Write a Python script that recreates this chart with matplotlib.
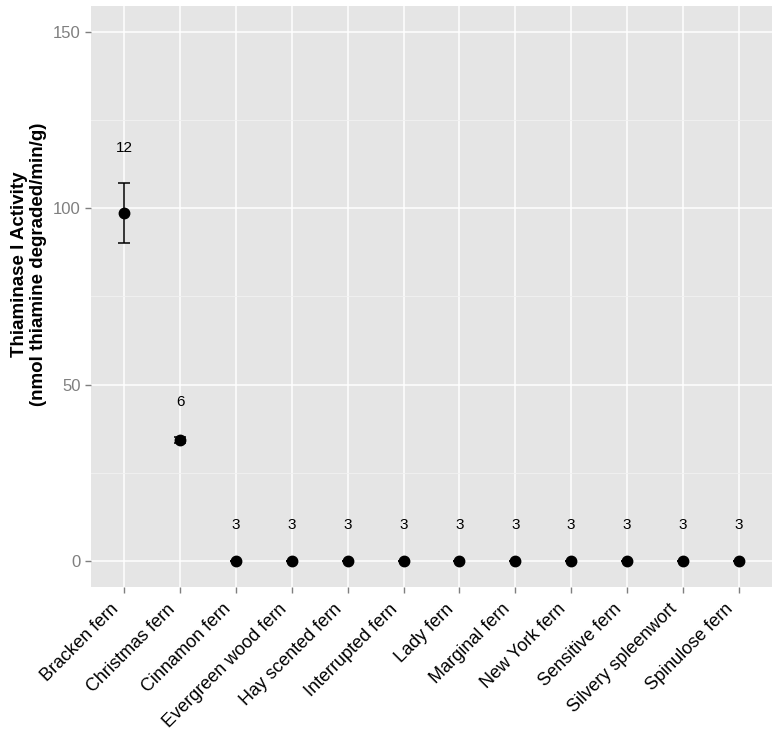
import numpy as np
import matplotlib.pyplot as plt
from matplotlib.ticker import MultipleLocator
from matplotlib.transforms import ScaledTranslation

plt.rcParams['font.family'] = ['Liberation Sans', 'DejaVu Sans']

species = ['Bracken fern', 'Christmas fern', 'Cinnamon fern', 'Evergreen wood fern',
           'Hay scented fern', 'Interrupted fern', 'Lady fern', 'Marginal fern',
           'New York fern', 'Sensitive fern', 'Silvery spleenwort', 'Spinulose fern']
activity = [98.8, 34.3, 0, 0, 0, 0, 0, 0, 0, 0, 0, 0]
err_low = [90.3, 33.5, 0, 0, 0, 0, 0, 0, 0, 0, 0, 0]
err_high = [107.3, 35.1, 0, 0, 0, 0, 0, 0, 0, 0, 0, 0]
n_samples = [12, 6, 3, 3, 3, 3, 3, 3, 3, 3, 3, 3]

fig = plt.figure(figsize=(7.8, 7.51), dpi=100)
ax = fig.add_axes([91/780, 1 - 587/751, 681/780, 581/751])
ax.set_facecolor('#e5e5e5')

x = np.arange(1, len(species) + 1)
act = np.array(activity)
lo = act - np.array(err_low)
hi = np.array(err_high) - act
ax.errorbar(x, act, yerr=[lo, hi], fmt='none', ecolor='black', elinewidth=1.1,
            capsize=4.5, capthick=1.1, zorder=3)
ax.plot(x, act, 'o', color='black', markersize=7.5, zorder=4)
for xi, top, n in zip(x, err_high, n_samples):
    ax.text(xi, top + 10, str(n), ha='center', va='center', fontsize=11, color='black')

ax.set_xlim(0.4, 12.6)
ax.set_ylim(-7.5, 157.5)
ax.set_xticks(x)
ax.set_xticklabels([])
# category labels, anchored at their right end just below the ticks
lab_trans = ax.get_xaxis_transform() + ScaledTranslation(-5/100, -23/100, fig.dpi_scale_trans)
for xi, name in zip(x, species):
    ax.text(xi, 0, name, transform=lab_trans, rotation=45, rotation_mode='anchor',
            ha='right', va='baseline', fontsize=13, color='black', clip_on=False)

ax.yaxis.set_major_locator(MultipleLocator(50))
ax.yaxis.set_minor_locator(MultipleLocator(25))
ax.tick_params(axis='y', which='major', colors='#7f7f7f', labelsize=12, length=4, width=1)
ax.tick_params(axis='y', which='minor', length=0)
ax.tick_params(axis='x', colors='#7f7f7f', length=4, width=1)
ax.grid(True, which='major', color='white', linewidth=1.1)
ax.grid(True, which='minor', axis='y', color='#f2f2f2', linewidth=0.6)
ax.set_axisbelow(True)
for s in ax.spines.values():
    s.set_visible(False)

ax.set_ylabel('Thiaminase I Activity\n(nmol thiamine degraded/min/g)',
              fontsize=13.5, fontweight='bold', linespacing=1.1)
ax.yaxis.set_label_coords(-0.065, 0.556)

fig.savefig('out.png', dpi=100)
